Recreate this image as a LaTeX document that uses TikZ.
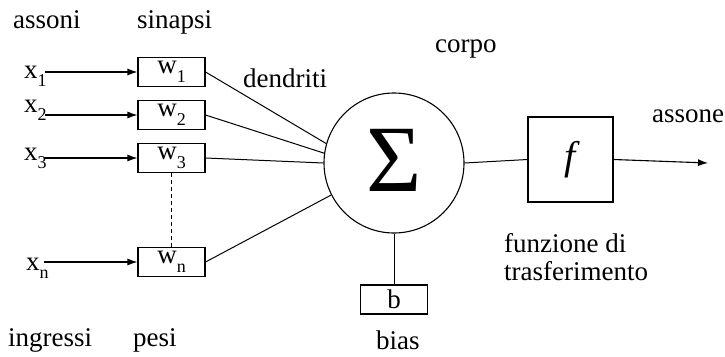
\documentclass[tikz,border=0pt]{standalone}
\usepackage{fontspec}
\setmainfont{Liberation Serif}
\usetikzlibrary{arrows.meta}
\newcommand{\lowsub}[1]{\raisebox{-0.32em}{\fontsize{18}{20}\selectfont #1}}
\begin{document}
\begin{tikzpicture}[x=1pt,y=-1pt,
  lbl/.style={inner sep=0pt,anchor=base west,font=\fontsize{27}{30}\selectfont},
  wbox/.style={draw,line width=1.1pt,minimum width=67pt,minimum height=29pt,inner sep=0pt,font=\fontsize{27}{30}\selectfont},
  xin/.style={inner sep=0pt,anchor=base west,font=\fontsize{27}{30}\selectfont},
  conn/.style={line width=1pt},
  arr/.style={line width=1.1pt,-{Latex[length=10pt,width=7pt]}}]
\useasboundingbox (0,0) rectangle (725,356);
% top labels
\node[lbl] (assoni) at (13,28) {assoni};
\node[lbl] (sinapsi) at (137,28) {sinapsi};
\node[lbl] (corpo) at (435,52) {corpo};
\node[lbl] (dendriti) at (243,87) {dendriti};
\node[lbl] (assone) at (652,122) {assone};
% bottom labels
\node[lbl] (ingressi) at (8,346) {ingressi};
\node[lbl] (pesi) at (133,346) {pesi};
\node[lbl] (bias) at (376,349) {bias};
\node[lbl] (funz) at (504,252) {funzione di};
\node[lbl] (trasf) at (504,280) {trasferimento};
% inputs
\node[xin] (x1) at (24,78) {x\lowsub{1}};
\node[xin] (x2) at (24,112) {x\lowsub{2}};
\node[xin] (x3) at (24,160) {x\lowsub{3}};
\node[xin] (xn) at (26,270) {x\lowsub{n}};
% weights
\node[wbox] (w1) at (171.5,72) {w\lowsub{1}};
\node[wbox] (w2) at (171.5,115) {w\lowsub{2}};
\node[wbox] (w3) at (171.5,158) {w\lowsub{3}};
\node[wbox] (wn) at (171.5,262) {w\lowsub{n}};
% body
\node[draw,circle,line width=1.1pt,minimum size=140pt,inner sep=0pt] (sigma) at (394,163) {};
\node[inner sep=0pt,font=\fontsize{95}{100}\selectfont] (sig) at (394,160) {Σ};
\node[draw,line width=1.1pt,minimum width=85pt,minimum height=85pt,inner sep=0pt,font=\fontsize{40}{44}\selectfont\itshape] (f) at (570.5,159.5) {f};
\node[wbox] (b) at (394,299.5) {b};
\coordinate (out) at (708,163);
% connectors
\draw[arr] (45,72) coordinate (x1s) -- (w1.west);
\draw[arr] (45,115) coordinate (x2s) -- (w2.west);
\draw[arr] (45,158) coordinate (x3s) -- (w3.west);
\draw[arr] (44,262) coordinate (xns) -- (wn.west);
\draw[conn] (w1.east) -- (sigma.164);
\draw[conn] (w2.east) -- (sigma.172);
\draw[conn] (w3.east) -- (sigma.180);
\draw[conn] (wn.east) -- (sigma.207);
\draw[conn,dashed,dash pattern=on 4pt off 3pt] (w3.south) -- (wn.north);
\draw[conn] (sigma.east) -- (f.west);
\draw[conn] (sigma.south) -- (b.north);
\draw[arr] (f.east) -- (out);
\end{tikzpicture}
\end{document}
